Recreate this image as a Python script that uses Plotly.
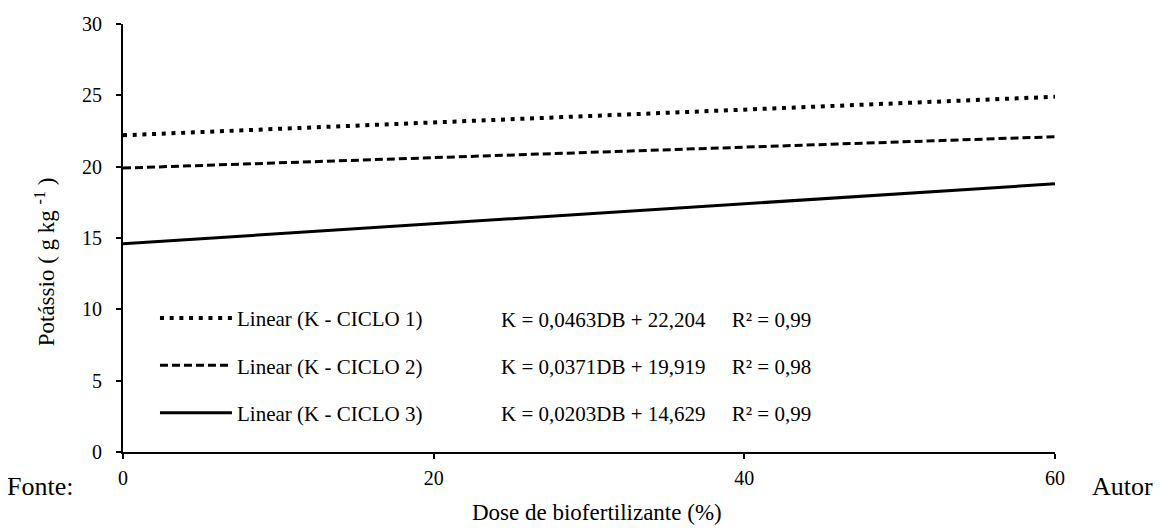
import plotly.graph_objects as go

dose = [0, 60]
ciclo1 = [22.2, 24.9]
ciclo2 = [19.9, 22.1]
ciclo3 = [14.6, 18.8]
names = ["Linear (K - CICLO 1)", "Linear (K - CICLO 2)", "Linear (K - CICLO 3)"]
equations = ["K = 0,0463DB + 22,204     R² = 0,99",
             "K = 0,0371DB + 19,919     R² = 0,98",
             "K = 0,0203DB + 14,629     R² = 0,99"]
eq_y = [9.24, 5.93, 2.63]
x_ticks = [0, 20, 40, 60]
y_ticks = [0, 5, 10, 15, 20, 25, 30]

FONT = "Liberation Serif"
FS = 21
fig = go.Figure()
styles = [dict(dash="4px,5.7px", width=4), dict(dash="8px,4px", width=3), dict(dash="solid", width=3)]
for i, (ys, st) in enumerate(zip([ciclo1, ciclo2, ciclo3], styles)):
    fig.add_trace(go.Scatter(x=dose, y=ys, mode="lines", name=names[i],
                             legendgroup=f"g{i}",
                             line=dict(color="black", **st)))

for i, eq in enumerate(equations):
    fig.add_annotation(x=0.572, xref="paper", y=eq_y[i], yref="y",
                       text=eq, showarrow=False, font=dict(family=FONT, size=FS, color="black"),
                       xanchor="center", yanchor="middle")

fig.add_annotation(x=-0.1266, xref="paper", y=-0.08, yref="paper", text="Fonte:", showarrow=False,
                   xanchor="left", yanchor="middle", font=dict(family=FONT, size=26, color="black"))
fig.add_annotation(x=1.0376, xref="paper", y=-0.08, yref="paper", text="Autor", showarrow=False,
                   xanchor="left", yanchor="middle", font=dict(family=FONT, size=26, color="black"))
# axis titles
fig.add_annotation(x=0.509, xref="paper", y=-0.1415, yref="paper", text="Dose de biofertilizante (%)",
                   showarrow=False, xanchor="center", yanchor="middle",
                   font=dict(family=FONT, size=23, color="black"))
fig.add_annotation(x=-0.0837, xref="paper", y=0.4456, yref="paper", text="Potássio ( g kg <sup>-1</sup> )",
                   showarrow=False, xanchor="center", yanchor="middle", textangle=-90,
                   font=dict(family=FONT, size=23, color="black"))

# page body has an 8px default margin; figure is shrunk so the plot area lands where the reference has it
fig.update_layout(
    width=1153, height=520,
    margin=dict(l=115, r=106, t=16, b=76),
    paper_bgcolor="white", plot_bgcolor="white",
    font=dict(family=FONT, size=FS, color="black"),
    showlegend=True,
    legend=dict(x=0.0343, y=0.36, xanchor="left", yanchor="top",
                bgcolor="rgba(0,0,0,0)", font=dict(family=FONT, size=FS, color="black"),
                itemwidth=72, tracegroupgap=17),
    xaxis=dict(range=[0, 60], tickvals=x_ticks, showgrid=False, zeroline=False,
               showline=True, linecolor="black", linewidth=2, ticks="outside",
               ticklen=5, tickwidth=1.5, tickcolor="black", automargin=False,
               ticklabelstandoff=2, tickfont=dict(family=FONT, size=20)),
    yaxis=dict(range=[0, 30], tickvals=y_ticks, showgrid=False, zeroline=False,
               showline=True, linecolor="black", linewidth=2, ticks="outside",
               ticklen=5, tickwidth=1.5, tickcolor="black", automargin=False,
               ticklabelstandoff=10, tickfont=dict(family=FONT, size=20)),
)
fig.write_html("out.html")
